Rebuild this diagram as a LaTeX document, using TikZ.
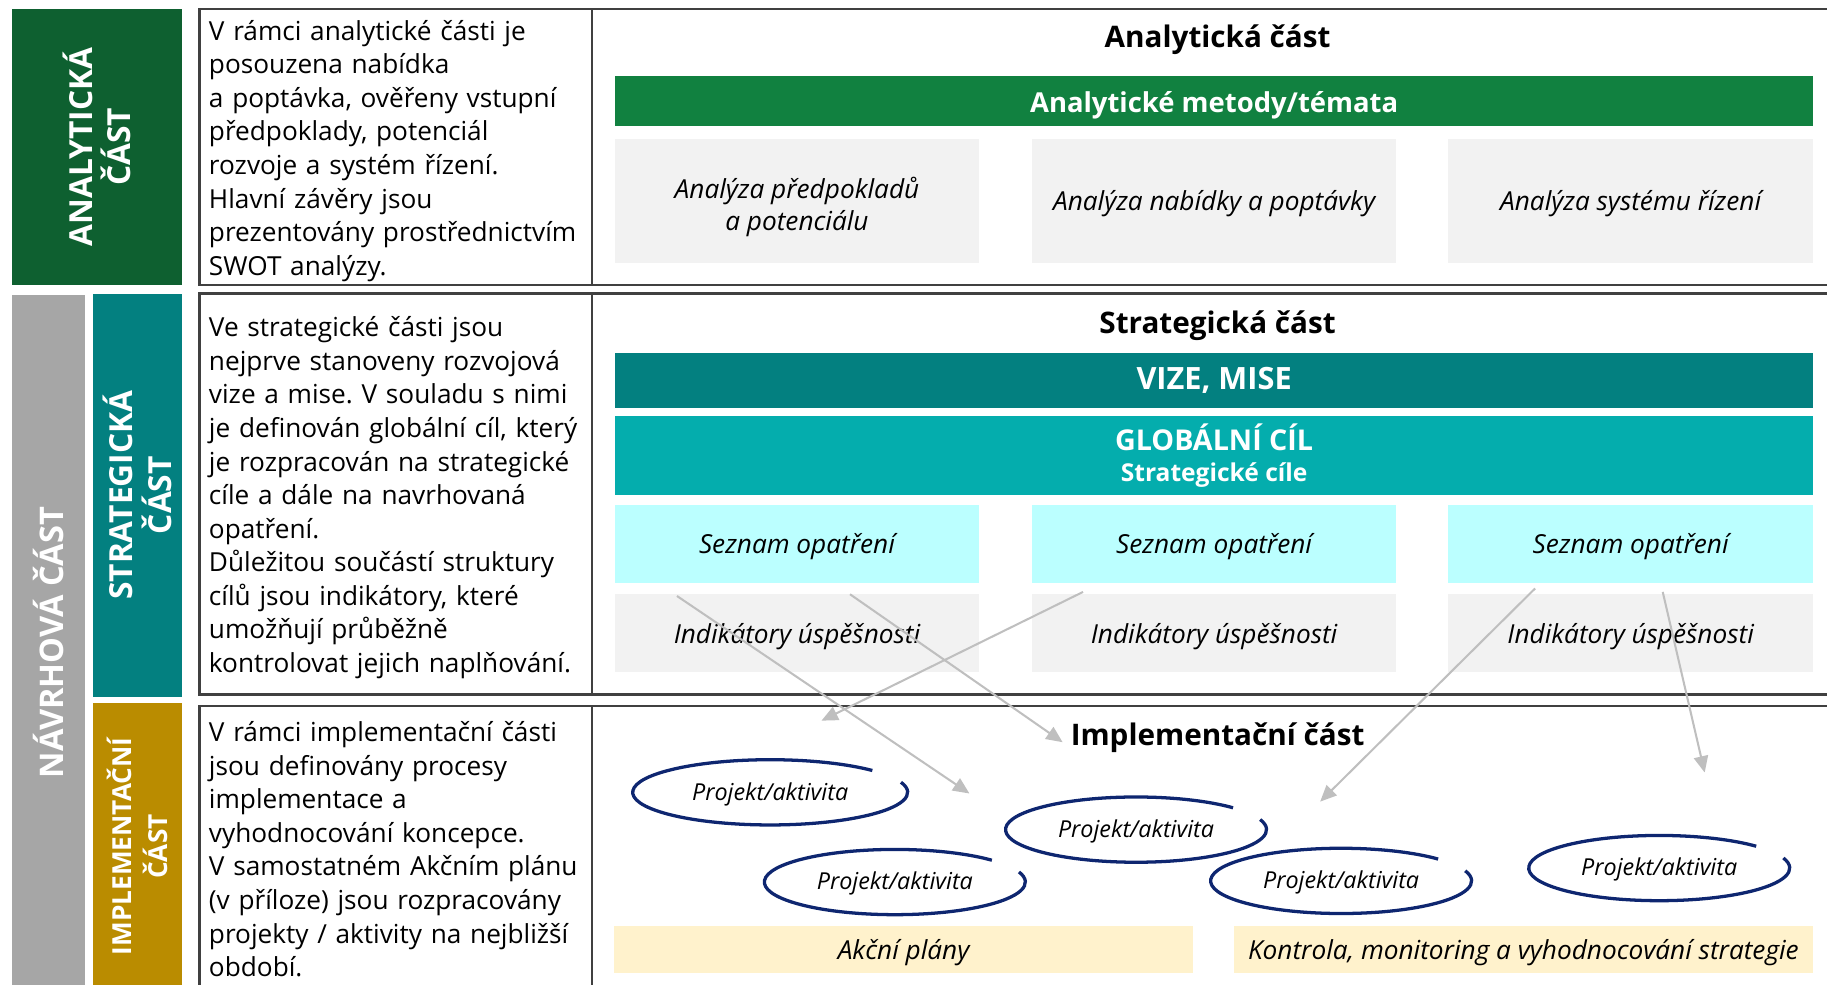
\documentclass[tikz,border=0pt]{standalone}
\usepackage{fontspec}
\setmainfont{Open Sans}
\usetikzlibrary{arrows.meta}
\definecolor{anagreen}{RGB}{14,96,48}
\definecolor{bargreen}{RGB}{17,129,64}
\definecolor{navgray}{RGB}{166,166,166}
\definecolor{tealdark}{RGB}{3,128,128}
\definecolor{teallight}{RGB}{4,173,173}
\definecolor{cyanpale}{RGB}{187,255,255}
\definecolor{boxgray}{RGB}{242,242,242}
\definecolor{impgold}{RGB}{186,140,0}
\definecolor{paleyellow}{RGB}{255,242,204}
\definecolor{framegray}{RGB}{64,64,64}
\definecolor{arrowgray}{RGB}{191,191,191}
\definecolor{loopblue}{RGB}{14,38,112}
\frenchspacing
\begin{document}
\begin{tikzpicture}[x=0.02cm,y=0.02cm,
  frame/.style={draw=framegray, line width=1.3pt},
  side/.style={rotate=90, text=white, align=center, inner sep=0pt, font=\fontsize{15.5}{18.8}\selectfont\bfseries},
  desc/.style={anchor=base west, text width=7cm, align=left, inner sep=0pt, font=\fontsize{12.8}{16.4}\selectfont},
  head/.style={anchor=base, inner sep=0pt, font=\fontsize{14.5}{17}\selectfont\bfseries},
  bar/.style={minimum width=20.56cm, inner sep=0pt, text=white, align=center},
  cellbox/.style={minimum width=6.24cm, inner sep=0pt, align=center, font=\fontsize{12.8}{15.6}\selectfont\itshape},
  cell/.style={cellbox, text height=1.06em, text depth=0.1em},
  proj/.style={inner sep=0pt, text height=0.92em, text depth=0.15em, font=\fontsize{11.4}{13}\selectfont\itshape},
  loopline/.style={draw=loopblue, line width=1.6pt},
  arr/.style={draw=arrowgray, line width=1pt, -{Triangle[length=8pt,width=7pt]}}]
\useasboundingbox (0,0) rectangle (1568,-845);
\clip (0,0) rectangle (1568,-845);
\node[side, fill=anagreen, minimum width=4.74cm, minimum height=2.92cm] (anal) at (83,-126) {ANALYTICKÁ\\ČÁST};
\node[side, fill=navgray, minimum width=11.94cm, minimum height=1.26cm, font=\fontsize{15.9}{18}\selectfont\bfseries] (navrh) at (41.5,-551.5) {NÁVRHOVÁ ČÁST};
\node[side, fill=tealdark, minimum width=6.92cm, minimum height=1.52cm] (strat) at (118,-425) {STRATEGICKÁ\\ČÁST};
\node[side, fill=impgold, minimum width=4.94cm, minimum height=1.52cm, font=\fontsize{12.8}{17.5}\selectfont\bfseries] (impl) at (118,-726.5) {IMPLEMENTAČNÍ\\ČÁST};
\draw[frame] (171,-7.7) rectangle (1600,-244.6);
\draw[frame] (508,-7.7) -- (508,-244.6);
\draw[frame] (171,-252) rectangle (1600,-596);
\draw[frame] (508,-252) -- (508,-596);
\draw[frame] (171,-606) rectangle (1600,-900);
\draw[frame] (508,-606) -- (508,-900);
\node[desc] (atext) at (179,-34.5) {V rámci analytické části je\\posouzena nabídka\\a poptávka, ověřeny vstupní\\předpoklady, potenciál\\rozvoje a systém řízení.\\Hlavní závěry jsou\\prezentovány prostřednictvím\\SWOT analýzy.};
\node[desc] (stext) at (179,-289) {Ve strategické části jsou\\nejprve stanoveny rozvojová\\vize a mise. V souladu s nimi\\je definován globální cíl, který\\je rozpracován na strategické\\cíle a dále na navrhovaná\\opatření.\\Důležitou součástí struktury\\cílů jsou indikátory, které\\umožňují průběžně\\kontrolovat jejich naplňování.};
\node[desc] (itext) at (179,-636.5) {V rámci implementační části\\jsou definovány procesy\\implementace a\\vyhodnocování koncepce.\\V samostatném Akčním plánu\\(v příloze) jsou rozpracovány\\projekty / aktivity na nejbližší\\období.};
\node[head] (ahead) at (1045,-41) {Analytická část};
\node[head] (shead) at (1045,-286) {Strategická část};
\node[head] (ihead) at (1045,-639.5) {Implementační část};
\node[bar, fill=bargreen, minimum height=0.86cm, text height=1.14em, text depth=0.1em, font=\fontsize{13.4}{16}\selectfont\bfseries] (metody) at (1042,-87) {Analytické metody/témata};
\node[cellbox, fill=boxgray, minimum height=2.14cm] (m1) at (684,-172.5) {\rule{0pt}{16pt}Analýza předpokladů\\a potenciálu};
\node[cell, fill=boxgray, minimum height=2.14cm] (m2) at (1042,-172.5) {Analýza nabídky a poptávky};
\node[cell, fill=boxgray, minimum height=2.14cm, minimum width=6.26cm] (m3) at (1399.5,-172.5) {Analýza systému řízení};
\node[bar, fill=tealdark, minimum height=0.94cm, font=\fontsize{15}{18}\selectfont\bfseries] (vize) at (1042,-326.5) {VIZE, MISE};
\node[bar, fill=teallight, minimum height=1.36cm, font=\fontsize{14}{15.6}\selectfont\bfseries] (cil) at (1042,-391) {GLOBÁLNÍ CÍL\\{\fontsize{12}{15.6}\selectfont Strategické cíle}};
\node[cell, fill=cyanpale, minimum height=1.33cm] (s1) at (684,-467) {Seznam opatření};
\node[cell, fill=cyanpale, minimum height=1.33cm] (s2) at (1042,-467) {Seznam opatření};
\node[cell, fill=cyanpale, minimum height=1.33cm, minimum width=6.26cm] (s3) at (1399.5,-467) {Seznam opatření};
\node[cell, fill=boxgray, minimum height=1.34cm] (i1) at (684,-543.5) {Indikátory úspěšnosti};
\node[cell, fill=boxgray, minimum height=1.34cm] (i2) at (1042,-543.5) {Indikátory úspěšnosti};
\node[cell, fill=boxgray, minimum height=1.34cm, minimum width=6.26cm] (i3) at (1399.5,-543.5) {Indikátory úspěšnosti};
\node[cell, fill=paleyellow, minimum width=9.94cm, minimum height=0.8cm] (akce) at (775.5,-815) {Akční plány};
\node[cell, fill=paleyellow, minimum width=9.94cm, minimum height=0.8cm] (kontrola) at (1307.5,-815) {Kontrola, monitoring a vyhodnocování strategie};
\node[proj] (p1) at (661,-680) {Projekt/aktivita};
\node[proj] (p2) at (975,-712) {Projekt/aktivita};
\node[proj] (p3) at (768,-757) {Projekt/aktivita};
\node[proj] (p4) at (1151,-756) {Projekt/aktivita};
\node[proj] (p5) at (1424,-745) {Projekt/aktivita};
\draw[loopline] (p1.center) ++(42:118 and 28) arc[start angle=42, end angle=378, x radius=118, y radius=28];
\draw[loopline] (p2.center) ++(42:112 and 28) arc[start angle=42, end angle=378, x radius=112, y radius=28];
\draw[loopline] (p3.center) ++(42:112 and 28) arc[start angle=42, end angle=378, x radius=112, y radius=28];
\draw[loopline] (p4.center) ++(42:112 and 28) arc[start angle=42, end angle=378, x radius=112, y radius=28];
\draw[loopline] (p5.center) ++(42:112 and 28) arc[start angle=42, end angle=378, x radius=112, y radius=28];
\coordinate (a1s) at (581,-511.5);
\coordinate (a1e) at (832,-681);
\coordinate (a2s) at (729.5,-510);
\coordinate (a2e) at (912,-637);
\coordinate (a3s) at (929.5,-508);
\coordinate (a3e) at (705,-618.5);
\coordinate (a4s) at (1317.5,-505);
\coordinate (a4e) at (1133,-688);
\coordinate (a5s) at (1427,-508);
\coordinate (a5e) at (1463,-663);
\draw[arr] (a1s) -- (a1e);
\draw[arr] (a2s) -- (a2e);
\draw[arr] (a3s) -- (a3e);
\draw[arr] (a4s) -- (a4e);
\draw[arr] (a5s) -- (a5e);
\end{tikzpicture}
\end{document}
